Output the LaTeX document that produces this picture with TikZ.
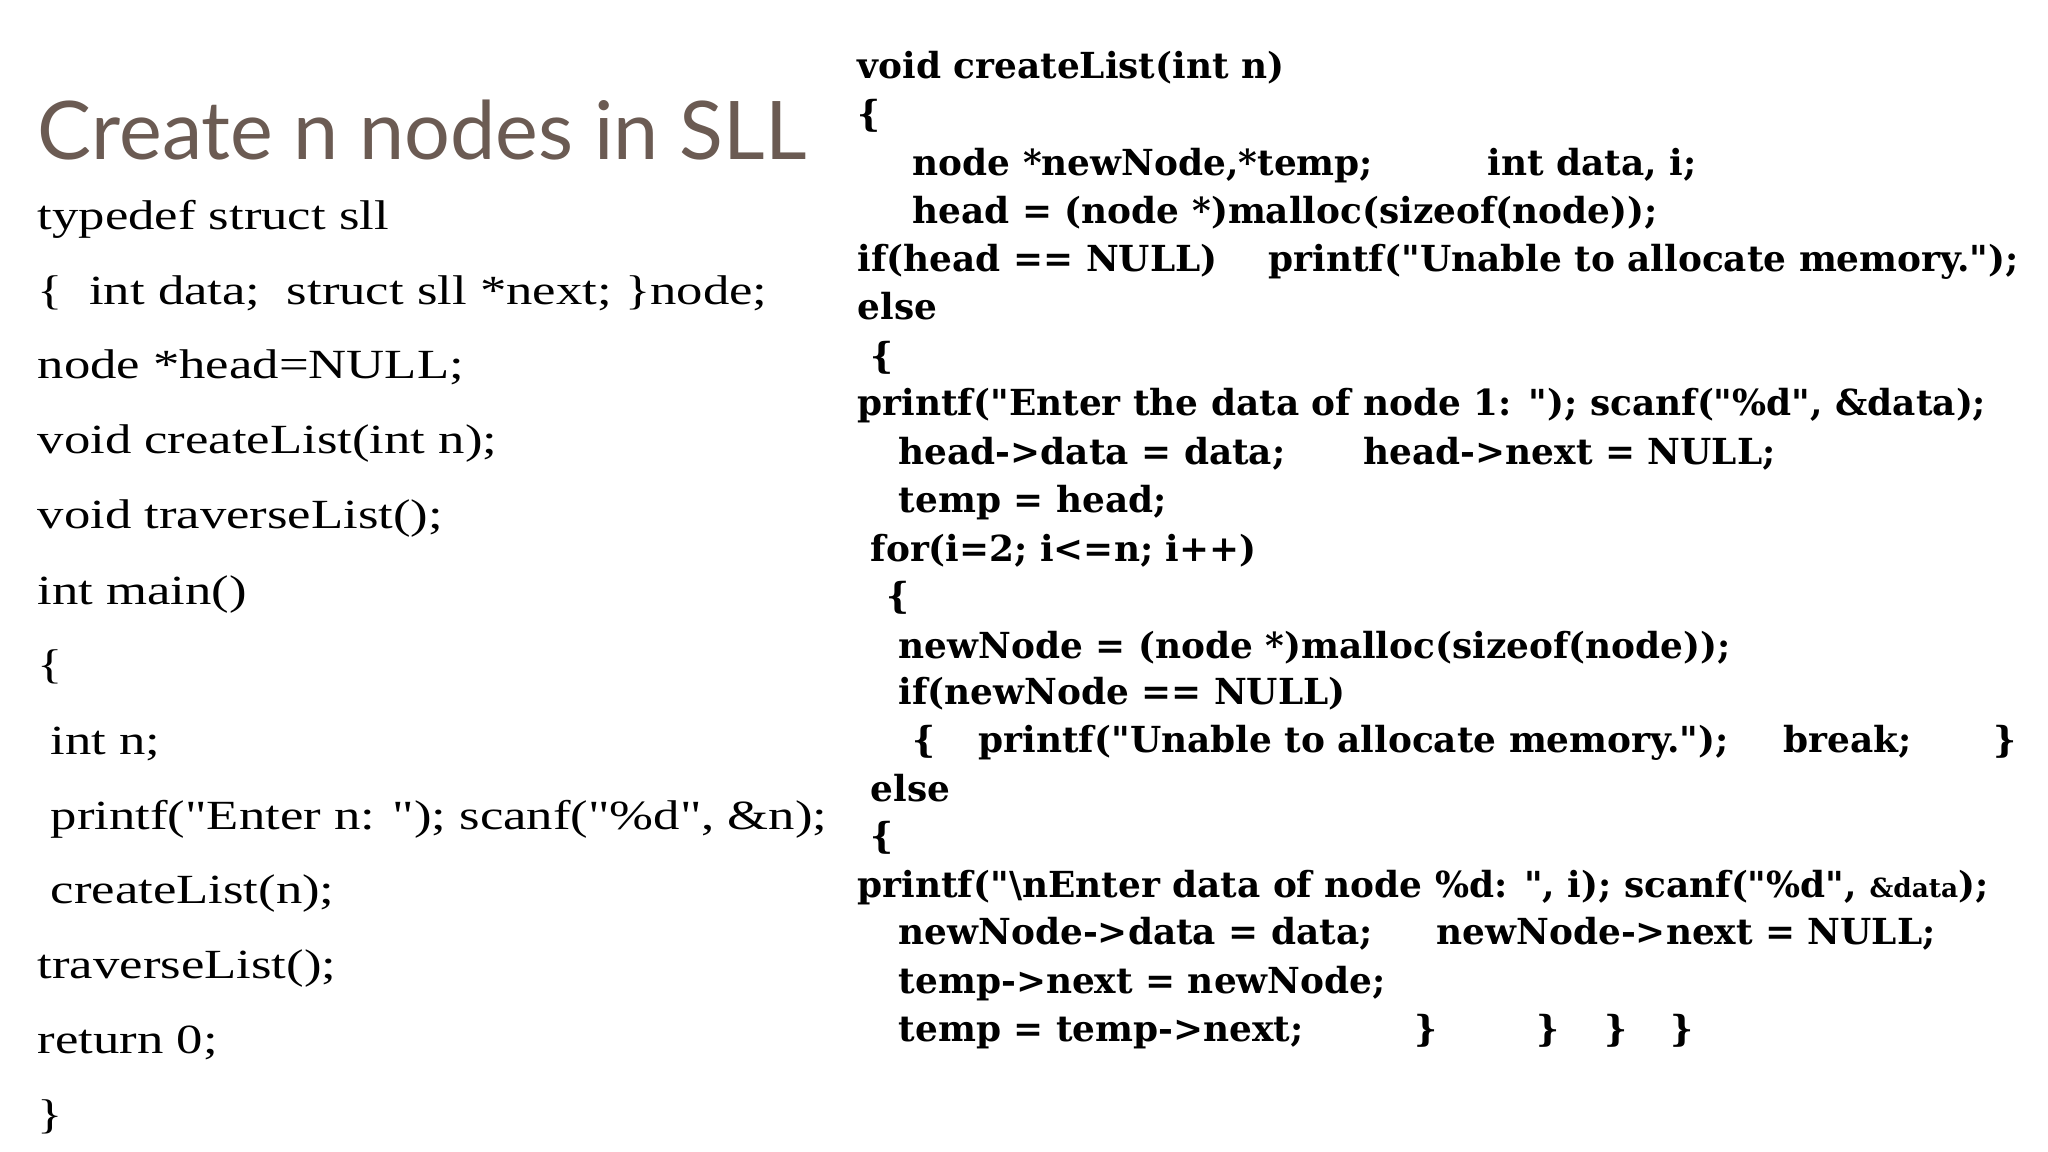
\documentclass[tikz,border=0pt]{standalone}
\usepackage{fontspec}
\newfontfamily\leftfont{Liberation Serif}[FakeStretch=1.27]
\newfontfamily\codefont{DejaVu Serif}[BoldFont={DejaVu Serif Bold}]
\newfontfamily\titlefont{Lato}
\definecolor{titlecol}{HTML}{6B5B53}
\begin{document}
\begin{tikzpicture}[x=0.01cm,y=-0.01cm,
  lt/.style={anchor=base west,inner sep=0pt,font=\leftfont\fontsize{11.8pt}{13pt}\selectfont},
  rt/.style={anchor=base west,inner sep=0pt,font=\codefont\bfseries\fontsize{10.2pt}{11pt}\selectfont}]
\useasboundingbox (0,0) rectangle (2048,1152);
\node[anchor=base west,inner sep=0pt,text=titlecol,font=\titlefont\fontsize{23pt}{28pt}\selectfont] (title) at (37,160) {Create n nodes in SLL};
\node[lt] (l1) at (37,230) {typedef struct sll};
\node[lt] (l2) at (37,305) {\{\ \ int data;\ \ struct sll *next; \}node;};
\node[lt] (l3) at (37,379) {node *head=NULL;};
\node[lt] (l4) at (37,454) {void createList(int n);};
\node[lt] (l5) at (37,529) {void traverseList();};
\node[lt] (l6) at (37,604) {int main()};
\node[lt] (l7) at (37,679) {\{};
\node[lt] (l8) at (50,754) {int n;};
\node[lt] (l9) at (50,829) {printf("Enter n: "); scanf("\%d", \&n);};
\node[lt] (l10) at (50,903) {createList(n);};
\node[lt] (l11) at (37,978) {traverseList();};
\node[lt] (l12) at (37,1053) {return 0;};
\node[lt] (l13) at (37,1128) {\}};
%
\node[rt] (r1) at (857,79) {void createList(int n)};
\node[rt] (r2) at (857,127) {\{};
\node[rt] (r3a) at (912,176) {node *newNode,*temp;};
\node[rt] (r3b) at (1487,176) {int data, i;};
\node[rt] (r4) at (912,224) {head = (node *)malloc(sizeof(node));};
\node[rt] (r5a) at (857,272) {if(head == NULL)};
\node[rt] (r5b) at (1268,272) {printf("Unable to allocate memory.");};
\node[rt] (r6) at (857,320) {else};
\node[rt] (r7) at (870,369) {\{};
\node[rt] (r8) at (857,416) {printf("Enter the data of node 1: "); scanf("\%d", \&data);};
\node[rt] (r9a) at (898,465) {head->data = data;};
\node[rt] (r9b) at (1363,465) {head->next = NULL;};
\node[rt] (r10) at (898,513) {temp = head;};
\node[rt] (r11) at (870,561) {for(i=2; i<=n; i++)};
\node[rt] (r12) at (886,609) {\{};
\node[rt] (r13) at (898,658) {newNode = (node *)malloc(sizeof(node));};
\node[rt] (r14) at (898,705) {if(newNode == NULL)};
\node[rt] (r15a) at (912,752) {\{};
\node[rt] (r15b) at (978,752) {printf("Unable to allocate memory.");};
\node[rt] (r15c) at (1783,752) {break;};
\node[rt] (r15d) at (1993,752) {\}};
\node[rt] (r16) at (870,801) {else};
\node[rt] (r17) at (870,848) {\{};
\node[rt] (r18) at (857,897) {printf("\textbackslash nEnter data of node \%d: ", i); scanf("\%d", {\fontsize{7.5pt}{9pt}\selectfont\&data});};
\node[rt] (r19a) at (898,944) {newNode->data = data;};
\node[rt] (r19b) at (1436,944) {newNode->next = NULL;};
\node[rt] (r20) at (898,993) {temp->next = newNode;};
\node[rt] (r21a) at (898,1041) {temp = temp->next;};
\node[rt] (r21b) at (1414,1041) {\}};
\node[rt] (r21c) at (1536,1041) {\}};
\node[rt] (r21d) at (1604,1041) {\}};
\node[rt] (r21e) at (1670,1041) {\}};
\end{tikzpicture}
\end{document}
